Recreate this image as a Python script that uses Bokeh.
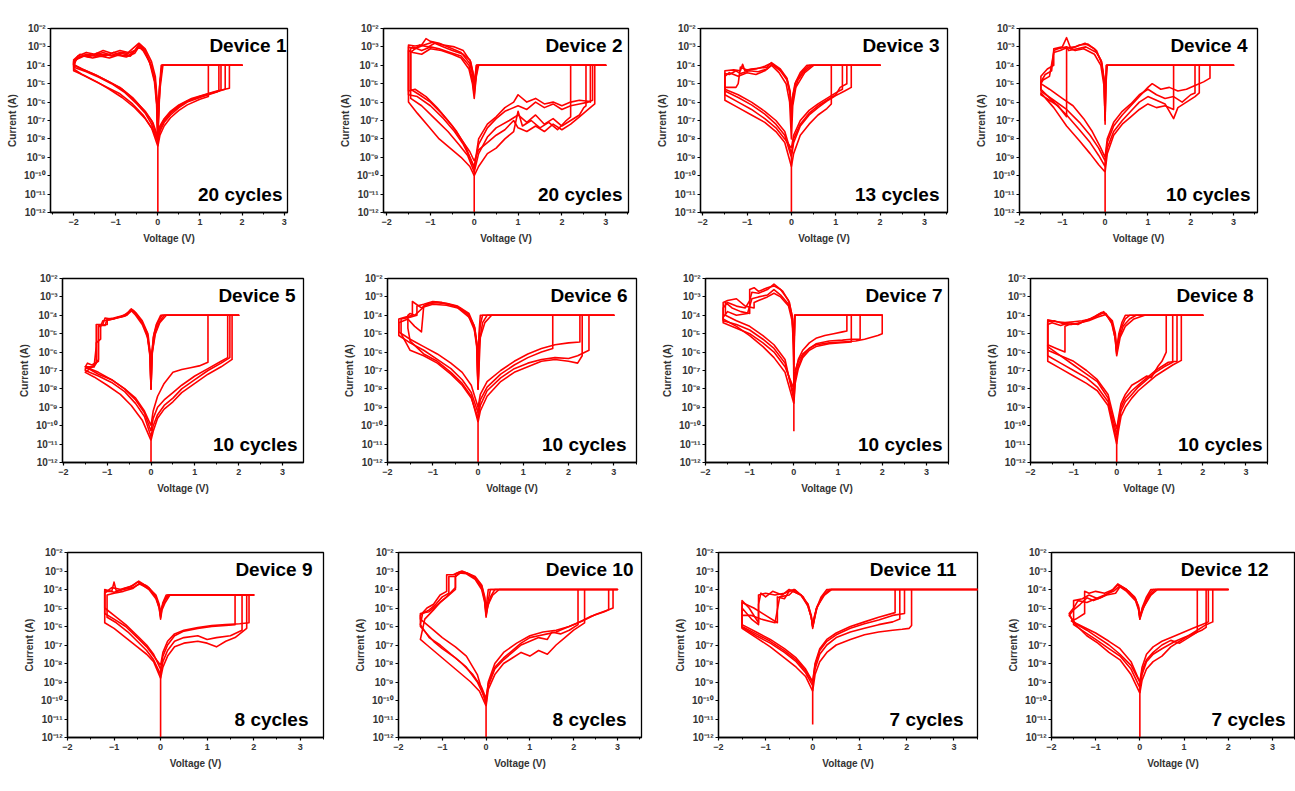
from bokeh.plotting import figure
from bokeh.layouts import column, row
from bokeh.models import Range1d, FixedTicker, CustomJSTickFormatter, Label
from bokeh.embed import file_html
from bokeh.resources import INLINE

# ---------------- data (voltage V, log10 |current| A) ----------------
DEVICE_NAMES = ["Device 1", "Device 2", "Device 3", "Device 4", "Device 5", "Device 6",
                "Device 7", "Device 8", "Device 9", "Device 10", "Device 11", "Device 12"]
CYCLE_LABELS = ["20 cycles", "20 cycles", "13 cycles", "10 cycles", "10 cycles", "10 cycles",
                "10 cycles", "10 cycles", "8 cycles", "8 cycles", "7 cycles", "7 cycles"]
X_TICKS = [-2, -1, 0, 1, 2, 3]
X_MINOR = [-2.5, -1.5, -0.5, 0.5, 1.5, 2.5, 3.5]
Y_TICKS = [1e-12, 1e-11, 1e-10, 1e-9, 1e-8, 1e-7, 1e-6, 1e-5, 1e-4, 1e-3, 1e-2]
X_RANGES = [(-2.55, 3.08), (-2.07, 3.52), (-2.05, 3.52), (-2.0, 3.56), (-2.02, 3.48), (-2.0, 3.5),
            (-2.0, 3.5), (-2.0, 3.5), (-2.0, 3.5), (-2.0, 3.55), (-2.0, 3.5), (-2.0, 3.5)]

D1 = [
    [(0,-8.2),(0.05,-7.6),(0.15,-7.1),(0.3,-6.7),(0.5,-6.3),(0.7,-6.0),(1.0,-5.75),(1.2,-5.6),(1.4,-5.45),(1.5,-5.35),(1.5,-4),(2.0,-4),(0.1,-4),(0.05,-5.0),(0.02,-6.5),(0,-8.0),(-0.02,-6.3),(-0.06,-5.0),(-0.15,-4.1),(-0.3,-3.3),(-0.45,-2.85),(-0.55,-3.2),(-0.7,-3.35),(-0.9,-3.3),(-1.1,-3.45),(-1.3,-3.3),(-1.5,-3.45),(-1.7,-3.4),(-1.9,-3.6),(-2.0,-3.9),(-2.0,-4.1),(-1.7,-4.35),(-1.4,-4.65),(-1.1,-5.0),(-0.8,-5.45),(-0.5,-6.1),(-0.3,-6.6),(-0.15,-7.2),(0,-8.2),(0,-12)],
    [(0,-8.0),(0.05,-7.4),(0.15,-6.95),(0.3,-6.55),(0.5,-6.2),(0.7,-5.95),(1.0,-5.7),(1.3,-5.5),(1.6,-5.3),(1.6,-4),(2.0,-4),(0.1,-4),(0.04,-5.2),(0.01,-6.8),(0,-7.8),(-0.02,-6.0),(-0.07,-4.8),(-0.18,-3.9),(-0.32,-3.25),(-0.42,-2.95),(-0.5,-3.1),(-0.65,-3.5),(-0.85,-3.45),(-1.05,-3.3),(-1.25,-3.5),(-1.45,-3.35),(-1.65,-3.55),(-1.85,-3.4),(-2.0,-3.7),(-2.0,-3.95),(-1.8,-4.2),(-1.5,-4.5),(-1.2,-4.85),(-0.9,-5.2),(-0.6,-5.75),(-0.35,-6.4),(-0.15,-7.0),(0,-8.0)],
    [(0,-8.4),(0.05,-7.8),(0.15,-7.3),(0.3,-6.85),(0.5,-6.45),(0.7,-6.15),(1.0,-5.85),(1.2,-5.7),(1.2,-4),(2.0,-4),(0.12,-4),(0.05,-5.3),(0.02,-6.6),(0,-8.2),(-0.03,-6.1),(-0.08,-4.9),(-0.2,-3.8),(-0.35,-3.2),(-0.45,-3.0),(-0.55,-3.35),(-0.75,-3.55),(-0.95,-3.45),(-1.15,-3.6),(-1.35,-3.5),(-1.55,-3.6),(-1.75,-3.5),(-1.95,-3.7),(-2.0,-4.2),(-1.8,-4.5),(-1.5,-4.85),(-1.2,-5.2),(-0.9,-5.55),(-0.6,-6.1),(-0.35,-6.7),(-0.15,-7.4),(0,-8.4)],
    [(0,-7.9),(0.05,-7.3),(0.15,-6.9),(0.3,-6.5),(0.5,-6.15),(0.8,-5.8),(1.1,-5.6),(1.4,-5.4),(1.7,-5.25),(1.7,-4),(2.0,-4),(0.08,-4),(0.03,-5.5),(0,-7.6),(-0.02,-5.8),(-0.06,-4.6),(-0.15,-3.8),(-0.3,-3.1),(-0.45,-2.8),(-0.55,-3.0),(-0.7,-3.3),(-0.9,-3.2),(-1.1,-3.35),(-1.3,-3.2),(-1.5,-3.4),(-1.7,-3.3),(-1.9,-3.5),(-2.0,-3.8),(-2.0,-4.0),(-1.75,-4.25),(-1.45,-4.55),(-1.15,-4.9),(-0.85,-5.3),(-0.55,-5.9),(-0.3,-6.5),(-0.12,-7.1),(0,-7.9)],
    [(0,-8.1),(0.05,-7.5),(0.15,-7.05),(0.3,-6.6),(0.5,-6.25),(0.7,-5.95),(1.0,-5.7),(1.2,-5.55),(1.45,-5.4),(1.45,-4),(2.0,-4),(0.1,-4),(0.05,-5.1),(0.02,-6.4),(0,-7.9),(-0.02,-6.2),(-0.06,-4.9),(-0.16,-4.0),(-0.3,-3.2),(-0.43,-2.9),(-0.52,-3.15),(-0.68,-3.45),(-0.88,-3.35),(-1.08,-3.5),(-1.28,-3.4),(-1.48,-3.5),(-1.68,-3.45),(-1.88,-3.55),(-2.0,-3.8),(-2.0,-4.3),(-1.75,-4.55),(-1.45,-4.9),(-1.15,-5.3),(-0.85,-5.75),(-0.55,-6.3),(-0.3,-6.9),(-0.12,-7.5),(0,-8.1)],
]

D2 = [
    [(0,-9.5),(0.1,-8.3),(0.3,-7.4),(0.5,-6.9),(0.7,-6.5),(1.0,-6.2),(1.2,-6.4),(1.4,-6.0),(1.6,-6.3),(1.8,-6.1),(2.0,-6.4),(2.2,-6.2),(2.4,-6.1),(2.6,-6.0),(2.7,-5.9),(2.7,-4),(3.0,-4),(0.05,-4),(0.02,-4.8),(0,-5.4),(-0.03,-4.6),(-0.1,-3.9),(-0.3,-3.3),(-0.5,-3.1),(-0.8,-2.8),(-1.0,-2.7),(-1.1,-2.55),(-1.2,-2.9),(-1.35,-2.95),(-1.5,-2.9),(-1.5,-5.6),(-1.3,-5.7),(-1.0,-6.2),(-0.7,-6.9),(-0.45,-7.6),(-0.25,-8.3),(-0.1,-9.0),(0,-9.5),(0,-12)],
    [(0,-9.8),(0.1,-8.8),(0.3,-7.9),(0.5,-7.4),(0.8,-7.0),(1.0,-6.7),(1.2,-7.1),(1.4,-6.7),(1.6,-7.2),(1.8,-6.9),(2.0,-7.3),(2.2,-7.0),(2.4,-6.7),(2.5,-6.3),(2.55,-6.2),(2.55,-4),(3.0,-4),(0.07,-4),(0.03,-4.9),(0,-5.6),(-0.04,-4.8),(-0.12,-4.0),(-0.3,-3.5),(-0.55,-3.3),(-0.8,-3.1),(-1.0,-3.0),(-1.2,-3.2),(-1.4,-3.0),(-1.45,-3.1),(-1.45,-5.8),(-1.2,-6.2),(-0.9,-6.9),(-0.6,-7.6),(-0.35,-8.3),(-0.15,-8.9),(0,-9.8)],
    [(0,-9.2),(0.1,-8.6),(0.3,-8.2),(0.5,-7.8),(0.7,-7.5),(0.9,-7.0),(1.0,-7.4),(1.2,-7.6),(1.4,-7.3),(1.6,-7.6),(1.8,-7.2),(2.0,-7.5),(2.2,-7.2),(2.4,-6.8),(2.6,-6.4),(2.75,-6.1),(2.75,-4),(3.0,-4),(0.1,-4),(0.04,-4.7),(0,-5.2),(-0.03,-4.4),(-0.1,-3.7),(-0.25,-3.4),(-0.5,-3.2),(-0.7,-3.0),(-0.9,-2.8),(-1.05,-3.0),(-1.25,-2.9),(-1.45,-3.3),(-1.45,-5.3),(-1.25,-5.6),(-1.0,-6.0),(-0.75,-6.6),(-0.5,-7.3),(-0.3,-8.0),(-0.1,-8.7),(0,-9.2)],
    [(0,-10.0),(0.1,-9.5),(0.3,-8.8),(0.5,-8.5),(0.7,-8.0),(0.9,-7.6),(1.0,-6.5),(1.1,-7.3),(1.3,-7.0),(1.5,-7.4),(1.7,-7.1),(1.9,-7.5),(2.1,-7.0),(2.2,-6.8),(2.2,-4),(3.0,-4),(0.06,-4),(0.03,-5.0),(0,-5.8),(-0.04,-5.0),(-0.12,-4.2),(-0.3,-3.6),(-0.5,-3.4),(-0.75,-3.2),(-1.0,-3.1),(-1.2,-3.4),(-1.4,-3.3),(-1.5,-3.2),(-1.5,-6.0),(-1.3,-6.6),(-1.05,-7.3),(-0.8,-8.0),(-0.55,-8.5),(-0.3,-9.0),(-0.1,-9.5),(0,-10.0)],
    [(0,-9.6),(0.1,-8.0),(0.3,-7.2),(0.5,-6.8),(0.7,-6.3),(0.9,-6.0),(1.0,-5.6),(1.2,-6.0),(1.4,-5.8),(1.6,-6.1),(1.8,-6.0),(2.0,-6.2),(2.2,-6.0),(2.4,-5.9),(2.6,-5.95),(2.65,-6.0),(2.65,-4),(3.0,-4),(0.05,-4),(0.02,-4.6),(0,-5.3),(-0.02,-4.5),(-0.08,-3.8),(-0.25,-3.2),(-0.45,-3.0),(-0.7,-2.9),(-0.95,-2.75),(-1.15,-2.9),(-1.35,-3.1),(-1.5,-3.0),(-1.5,-5.4),(-1.35,-5.3),(-1.1,-5.7),(-0.85,-6.3),(-0.6,-7.0),(-0.4,-7.6),(-0.2,-8.4),(0,-9.6)],
]

D3 = [
    [(0,-9.0),(0.05,-8.2),(0.2,-7.3),(0.4,-6.7),(0.6,-6.3),(0.8,-5.95),(1.0,-5.65),(1.2,-5.4),(1.35,-5.2),(1.35,-4),(2.0,-4),(0.45,-4),(0.3,-4.3),(0.15,-4.8),(0.05,-5.5),(0,-6.5),(-0.03,-5.4),(-0.1,-4.7),(-0.25,-4.2),(-0.45,-3.85),(-0.55,-4.1),(-0.7,-4.15),(-0.9,-4.2),(-1.05,-4.3),(-1.1,-3.95),(-1.15,-4.3),(-1.3,-4.25),(-1.5,-4.3),(-1.5,-5.4),(-1.2,-5.75),(-0.9,-6.15),(-0.6,-6.65),(-0.35,-7.2),(-0.15,-7.8),(0,-9.0),(0,-12)],
    [(0,-8.5),(0.05,-7.8),(0.2,-7.0),(0.4,-6.45),(0.6,-6.1),(0.8,-5.8),(1.0,-5.5),(1.15,-5.3),(1.15,-4),(2.0,-4),(0.35,-4),(0.2,-4.4),(0.08,-5.0),(0.02,-5.8),(0,-7.0),(-0.03,-5.6),(-0.1,-4.8),(-0.25,-4.3),(-0.43,-3.95),(-0.55,-4.2),(-0.75,-4.35),(-0.95,-4.3),(-1.15,-4.45),(-1.25,-4.3),(-1.4,-4.5),(-1.5,-4.45),(-1.5,-5.6),(-1.2,-6.0),(-0.9,-6.4),(-0.6,-6.9),(-0.35,-7.4),(-0.15,-8.0),(0,-8.5)],
    [(0,-9.5),(0.05,-8.8),(0.2,-7.8),(0.4,-7.2),(0.6,-6.7),(0.8,-6.35),(0.9,-6.1),(0.9,-4),(2.0,-4),(0.5,-4),(0.3,-4.4),(0.1,-5.2),(0.03,-6.2),(0,-8.0),(-0.04,-6.0),(-0.12,-5.0),(-0.28,-4.4),(-0.45,-4.0),(-0.6,-4.3),(-0.8,-4.5),(-1.0,-4.4),(-1.2,-4.6),(-1.4,-4.4),(-1.5,-4.6),(-1.5,-5.9),(-1.2,-6.3),(-0.9,-6.7),(-0.6,-7.1),(-0.35,-7.6),(-0.15,-8.2),(0,-9.5)],
    [(0,-8.8),(0.05,-8.0),(0.2,-7.2),(0.4,-6.6),(0.6,-6.2),(0.8,-5.9),(1.0,-5.6),(1.1,-5.2),(1.25,-5.0),(1.25,-4),(2.0,-4),(0.4,-4),(0.25,-4.35),(0.1,-4.9),(0.03,-5.7),(0,-6.8),(-0.03,-5.5),(-0.1,-4.75),(-0.25,-4.25),(-0.47,-3.9),(-0.6,-4.05),(-0.8,-4.2),(-1.0,-4.25),(-1.15,-4.1),(-1.2,-5.0),(-1.25,-5.2),(-1.5,-5.2),(-1.5,-5.3),(-1.2,-5.6),(-0.9,-6.0),(-0.6,-6.5),(-0.35,-7.0),(-0.15,-7.6),(0,-8.8)],
]

D4 = [
    [(0,-9.2),(0.05,-8.2),(0.2,-7.3),(0.4,-6.7),(0.6,-6.2),(0.8,-5.7),(1.0,-5.2),(1.1,-5.0),(1.3,-5.3),(1.5,-5.2),(1.7,-5.4),(1.9,-5.3),(2.1,-5.1),(2.3,-4.9),(2.45,-4.7),(2.45,-4),(3.0,-4),(0.03,-4),(0.01,-5.5),(0,-7.0),(-0.02,-5.0),(-0.08,-3.9),(-0.2,-3.2),(-0.4,-2.85),(-0.6,-2.9),(-0.8,-3.1),(-0.9,-2.5),(-1.0,-3.0),(-1.2,-3.1),(-1.2,-4.0),(-1.35,-4.2),(-1.5,-4.6),(-1.5,-5.4),(-1.2,-5.9),(-0.9,-6.4),(-0.6,-7.1),(-0.35,-7.8),(-0.15,-8.5),(0,-9.2),(0,-12)],
    [(0,-9.5),(0.05,-8.5),(0.2,-7.6),(0.4,-7.0),(0.6,-6.5),(0.8,-6.0),(1.0,-5.7),(1.2,-5.9),(1.4,-6.1),(1.6,-6.9),(1.7,-6.3),(1.9,-6.0),(2.1,-5.7),(2.2,-5.5),(2.2,-4),(3.0,-4),(0.04,-4),(0.01,-5.3),(0,-6.5),(-0.02,-4.8),(-0.08,-3.8),(-0.2,-3.3),(-0.45,-3.0),(-0.65,-3.1),(-0.85,-3.2),(-0.9,-3.0),(-1.1,-3.1),(-1.2,-3.2),(-1.25,-4.3),(-1.4,-4.5),(-1.5,-4.9),(-1.5,-5.3),(-1.2,-6.0),(-0.9,-6.7),(-0.6,-7.5),(-0.35,-8.2),(-0.15,-8.9),(0,-9.5)],
    [(0,-9.0),(0.05,-8.0),(0.2,-7.1),(0.4,-6.5),(0.6,-6.1),(0.8,-5.6),(1.0,-5.3),(1.2,-5.6),(1.4,-5.8),(1.6,-5.7),(1.8,-6.0),(2.0,-5.6),(2.1,-5.5),(2.1,-4),(3.0,-4),(0.05,-4),(0.02,-5.0),(0,-6.8),(-0.03,-4.7),(-0.1,-3.7),(-0.25,-3.1),(-0.47,-2.8),(-0.7,-3.0),(-0.9,-3.05),(-1.05,-3.2),(-1.2,-3.3),(-1.3,-4.6),(-1.45,-4.8),(-1.5,-5.0),(-1.3,-5.3),(-1.0,-5.8),(-0.75,-6.2),(-0.5,-6.9),(-0.3,-7.6),(-0.12,-8.4),(0,-9.0)],
    [(0,-9.8),(0.05,-8.8),(0.2,-7.8),(0.4,-7.2),(0.6,-6.8),(0.8,-6.4),(1.0,-6.1),(1.2,-6.3),(1.4,-6.2),(1.6,-6.4),(1.6,-4),(3.0,-4),(0.03,-4),(0.01,-5.6),(0,-7.2),(-0.02,-5.2),(-0.1,-4.0),(-0.25,-3.4),(-0.5,-3.1),(-0.7,-3.2),(-0.9,-3.0),(-0.9,-6.8),(-1.1,-6.2),(-1.3,-5.9),(-1.5,-5.6),(-1.5,-5.5),(-1.2,-6.3),(-0.9,-7.3),(-0.6,-8.1),(-0.35,-8.8),(-0.15,-9.4),(0,-9.8)],
]

D5 = [
    [(0,-10.6),(0.05,-10.0),(0.15,-9.4),(0.3,-8.9),(0.5,-8.5),(0.7,-8.0),(1.0,-7.5),(1.3,-7.0),(1.6,-6.6),(1.8,-6.3),(1.8,-4),(2.0,-4),(0.25,-4),(0.15,-4.4),(0.07,-5.0),(0.02,-6.0),(0,-8.0),(-0.02,-6.2),(-0.08,-5.1),(-0.2,-4.4),(-0.33,-3.95),(-0.45,-3.65),(-0.55,-3.95),(-0.7,-4.05),(-0.85,-4.15),(-1.0,-4.2),(-1.05,-4.55),(-1.2,-4.55),(-1.2,-6.4),(-1.3,-6.8),(-1.5,-6.9),(-1.5,-7.0),(-1.2,-7.3),(-0.9,-7.65),(-0.6,-8.15),(-0.35,-8.8),(-0.15,-9.5),(0,-10.6),(0,-12)],
    [(0,-10.3),(0.05,-9.6),(0.15,-9.0),(0.3,-8.6),(0.5,-8.2),(0.7,-7.8),(1.0,-7.3),(1.3,-6.9),(1.6,-6.5),(1.75,-6.3),(1.75,-4),(2.0,-4),(0.3,-4),(0.18,-4.4),(0.08,-5.1),(0.02,-6.2),(0,-8.0),(-0.02,-6.0),(-0.07,-5.0),(-0.2,-4.3),(-0.35,-3.85),(-0.42,-3.7),(-0.55,-4.0),(-0.7,-4.1),(-0.9,-4.2),(-1.05,-4.15),(-1.1,-4.5),(-1.25,-4.5),(-1.25,-5.7),(-1.3,-6.8),(-1.5,-6.8),(-1.2,-7.2),(-0.9,-7.5),(-0.6,-8.0),(-0.35,-8.6),(-0.15,-9.3),(0,-10.3)],
    [(0,-10.0),(0.05,-9.2),(0.15,-8.4),(0.3,-7.7),(0.5,-7.1),(0.7,-6.95),(0.9,-6.85),(1.1,-6.75),(1.3,-6.55),(1.3,-4),(2.0,-4),(0.22,-4),(0.12,-4.5),(0.05,-5.2),(0.01,-6.5),(0,-8.0),(-0.02,-6.3),(-0.08,-5.2),(-0.2,-4.5),(-0.35,-4.0),(-0.47,-3.7),(-0.6,-4.05),(-0.75,-4.1),(-0.95,-4.25),(-1.1,-4.3),(-1.15,-4.6),(-1.2,-4.6),(-1.2,-6.5),(-1.35,-6.7),(-1.45,-6.6),(-1.5,-6.8),(-1.2,-7.1),(-0.9,-7.5),(-0.6,-8.0),(-0.35,-8.5),(-0.15,-9.2),(0,-10.0)],
    [(0,-10.8),(0.05,-10.3),(0.15,-9.6),(0.3,-9.1),(0.5,-8.7),(0.7,-8.2),(1.0,-7.7),(1.3,-7.2),(1.6,-6.8),(1.85,-6.4),(1.85,-4),(2.0,-4),(0.35,-4),(0.2,-4.4),(0.1,-5.0),(0.03,-6.0),(0,-8.0),(-0.03,-5.9),(-0.1,-4.9),(-0.22,-4.3),(-0.4,-3.75),(-0.5,-3.8),(-0.65,-4.05),(-0.85,-4.2),(-1.0,-4.25),(-1.0,-4.5),(-1.15,-4.55),(-1.15,-5.3),(-1.25,-5.5),(-1.25,-6.6),(-1.5,-7.1),(-1.3,-7.35),(-1.0,-7.8),(-0.7,-8.3),(-0.45,-8.9),(-0.2,-9.7),(0,-10.8)],
]

D6 = [
    [(0,-9.0),(0.05,-8.3),(0.2,-7.6),(0.5,-7.0),(0.8,-6.5),(1.1,-6.1),(1.4,-5.8),(1.7,-5.6),(2.0,-5.5),(2.25,-5.45),(2.25,-4),(3.0,-4),(0.1,-4),(0.05,-4.5),(0.02,-5.5),(0,-8.0),(-0.02,-5.8),(-0.07,-4.7),(-0.2,-4.0),(-0.4,-3.6),(-0.65,-3.4),(-0.9,-3.3),(-1.1,-3.35),(-1.25,-3.6),(-1.45,-3.25),(-1.45,-4.0),(-1.6,-4.1),(-1.75,-4.2),(-1.75,-4.9),(-1.5,-5.3),(-1.2,-5.7),(-0.9,-6.1),(-0.6,-6.6),(-0.35,-7.1),(-0.15,-7.8),(0,-9.0),(0,-12)],
    [(0,-9.3),(0.05,-8.6),(0.2,-7.9),(0.5,-7.2),(0.8,-6.7),(1.1,-6.3),(1.4,-6.0),(1.65,-5.8),(1.65,-4),(3.0,-4),(0.2,-4),(0.1,-4.4),(0.03,-5.5),(0,-8.0),(-0.02,-5.6),(-0.08,-4.6),(-0.2,-3.9),(-0.45,-3.5),(-0.7,-3.35),(-0.95,-3.3),(-1.1,-3.4),(-1.2,-3.5),(-1.25,-4.9),(-1.4,-4.6),(-1.55,-4.2),(-1.75,-4.4),(-1.75,-5.1),(-1.5,-5.5),(-1.2,-5.9),(-0.9,-6.4),(-0.6,-6.9),(-0.35,-7.5),(-0.15,-8.2),(0,-9.3)],
    [(0,-9.6),(0.05,-8.9),(0.2,-8.1),(0.5,-7.4),(0.8,-6.9),(1.1,-6.6),(1.4,-6.4),(1.7,-6.3),(2.0,-6.35),(2.2,-6.2),(2.45,-5.9),(2.45,-4),(3.0,-4),(0.3,-4),(0.15,-4.4),(0.05,-5.2),(0,-8.0),(-0.03,-5.5),(-0.1,-4.5),(-0.25,-3.9),(-0.5,-3.5),(-0.8,-3.3),(-1.0,-3.25),(-1.2,-3.4),(-1.35,-3.5),(-1.35,-4.0),(-1.5,-4.1),(-1.7,-4.2),(-1.7,-5.0),(-1.5,-5.9),(-1.2,-6.2),(-0.9,-6.6),(-0.6,-7.2),(-0.35,-7.8),(-0.15,-8.5),(0,-9.6)],
    [(0,-9.8),(0.05,-9.2),(0.2,-8.4),(0.5,-7.6),(0.8,-7.1),(1.1,-6.8),(1.4,-6.5),(1.7,-6.4),(2.0,-6.5),(2.2,-6.6),(2.3,-6.2),(2.3,-4),(3.0,-4),(0.05,-4),(0.02,-5.0),(0,-8.0),(-0.03,-5.7),(-0.08,-4.8),(-0.2,-4.1),(-0.45,-3.6),(-0.7,-3.45),(-1.0,-3.4),(-1.2,-3.55),(-1.4,-4.0),(-1.5,-3.9),(-1.55,-4.0),(-1.55,-4.7),(-1.5,-5.4),(-1.2,-6.1),(-0.9,-6.5),(-0.6,-7.1),(-0.35,-7.7),(-0.15,-8.4),(0,-9.8)],
]

D7 = [
    [(0,-8.3),(0.03,-7.2),(0.1,-6.4),(0.2,-5.9),(0.35,-5.5),(0.5,-5.25),(0.7,-5.1),(0.9,-5.0),(1.1,-4.9),(1.2,-4.85),(1.2,-4),(2.0,-4),(0.02,-4),(0.005,-5.5),(0,-8.0),(-0.01,-5.5),(-0.03,-4.2),(-0.1,-3.3),(-0.25,-2.7),(-0.45,-2.3),(-0.6,-2.6),(-0.8,-2.8),(-0.95,-2.75),(-1.0,-3.2),(-1.1,-3.6),(-1.3,-3.5),(-1.5,-3.3),(-1.6,-3.6),(-1.6,-4.3),(-1.3,-4.5),(-1.0,-4.8),(-0.7,-5.3),(-0.45,-5.8),(-0.2,-6.6),(0,-8.3),(0,-10.3)],
    [(0,-8.6),(0.03,-7.5),(0.1,-6.7),(0.2,-6.2),(0.35,-5.8),(0.5,-5.55),(0.8,-5.4),(1.1,-5.35),(1.3,-5.3),(1.5,-5.3),(1.5,-4),(2.0,-4),(0.02,-4),(0,-6.0),(-0.01,-5.2),(-0.04,-4.0),(-0.12,-3.2),(-0.3,-2.6),(-0.45,-2.4),(-0.6,-2.5),(-0.8,-2.7),(-0.9,-2.5),(-1.0,-2.6),(-1.0,-3.9),(-1.2,-3.8),(-1.4,-3.6),(-1.55,-3.3),(-1.55,-4.0),(-1.3,-4.3),(-1.0,-4.6),(-0.7,-5.1),(-0.45,-5.6),(-0.2,-6.4),(0,-8.6)],
    [(0,-8.0),(0.03,-7.0),(0.1,-6.5),(0.2,-6.1),(0.35,-5.8),(0.5,-5.6),(0.8,-5.5),(1.1,-5.45),(1.4,-5.4),(1.6,-5.3),(1.9,-5.1),(2.0,-5.0),(2.0,-4),(0.02,-4),(0,-6.5),(-0.01,-5.3),(-0.04,-4.1),(-0.12,-3.4),(-0.3,-2.9),(-0.45,-2.6),(-0.6,-2.9),(-0.8,-3.0),(-0.95,-3.1),(-1.05,-3.9),(-1.3,-4.0),(-1.5,-3.8),(-1.6,-4.1),(-1.6,-4.4),(-1.3,-4.7),(-1.0,-5.0),(-0.7,-5.5),(-0.45,-6.0),(-0.2,-6.8),(0,-8.0)],
    [(0,-8.8),(0.03,-7.7),(0.1,-6.9),(0.2,-6.3),(0.35,-5.9),(0.5,-5.7),(0.8,-5.55),(1.0,-5.5),(1.3,-5.45),(1.3,-4),(2.0,-4),(0.02,-4),(0,-7.0),(-0.01,-5.6),(-0.04,-4.3),(-0.12,-3.5),(-0.3,-3.0),(-0.45,-2.8),(-0.6,-3.0),(-0.8,-3.2),(-0.9,-3.3),(-0.9,-3.6),(-1.1,-3.5),(-1.3,-3.1),(-1.5,-3.2),(-1.6,-3.3),(-1.6,-4.2),(-1.3,-4.6),(-1.0,-5.1),(-0.7,-5.7),(-0.45,-6.3),(-0.2,-7.1),(0,-8.8)],
]

D8 = [
    [(0,-10.8),(0.04,-10.0),(0.1,-9.2),(0.2,-8.7),(0.35,-8.3),(0.5,-7.9),(0.7,-7.5),(0.9,-7.1),(1.1,-6.8),(1.3,-6.55),(1.3,-4),(2.0,-4),(0.3,-4),(0.2,-4.2),(0.1,-4.7),(0.04,-5.3),(0,-6.1),(-0.04,-5.2),(-0.12,-4.4),(-0.3,-3.8),(-0.45,-4.0),(-0.6,-4.2),(-0.8,-4.3),(-1.0,-4.35),(-1.2,-4.4),(-1.4,-4.35),(-1.6,-4.25),(-1.6,-6.2),(-1.3,-6.6),(-1.0,-7.0),(-0.7,-7.4),(-0.45,-7.9),(-0.2,-8.7),(0,-10.8),(0,-12)],
    [(0,-10.2),(0.04,-9.6),(0.1,-8.8),(0.2,-8.3),(0.35,-7.8),(0.5,-7.6),(0.7,-7.3),(0.8,-7.4),(0.95,-6.8),(1.05,-6.5),(1.15,-6.0),(1.15,-4),(2.0,-4),(0.65,-4),(0.4,-4.2),(0.2,-4.6),(0.08,-5.2),(0,-6.2),(-0.03,-5.3),(-0.1,-4.5),(-0.25,-3.9),(-0.35,-3.85),(-0.5,-4.05),(-0.7,-4.3),(-0.9,-4.45),(-1.1,-4.5),(-1.2,-4.6),(-1.2,-6.0),(-1.4,-5.8),(-1.6,-5.6),(-1.6,-5.9),(-1.3,-6.2),(-1.0,-6.5),(-0.7,-7.0),(-0.45,-7.5),(-0.2,-8.3),(0,-10.2)],
    [(0,-11.0),(0.04,-10.3),(0.1,-9.5),(0.2,-9.0),(0.35,-8.5),(0.5,-8.1),(0.7,-7.7),(0.9,-7.3),(1.1,-7.0),(1.3,-6.7),(1.5,-6.45),(1.5,-4),(2.0,-4),(0.45,-4),(0.3,-4.2),(0.15,-4.6),(0.05,-5.3),(0,-6.0),(-0.04,-5.0),(-0.12,-4.3),(-0.3,-3.85),(-0.5,-4.1),(-0.7,-4.25),(-0.9,-4.5),(-1.1,-4.4),(-1.3,-4.55),(-1.5,-4.4),(-1.6,-4.5),(-1.6,-6.5),(-1.3,-6.9),(-1.0,-7.3),(-0.7,-7.7),(-0.45,-8.1),(-0.2,-8.9),(0,-11.0)],
    [(0,-10.5),(0.04,-9.8),(0.1,-9.0),(0.2,-8.5),(0.35,-8.1),(0.5,-7.8),(0.7,-7.4),(0.9,-7.0),(1.1,-6.7),(1.2,-6.55),(1.4,-6.5),(1.4,-4),(2.0,-4),(0.2,-4),(0.12,-4.4),(0.05,-5.0),(0,-5.9),(-0.03,-5.0),(-0.1,-4.3),(-0.25,-3.95),(-0.45,-4.1),(-0.65,-4.3),(-0.85,-4.4),(-1.05,-4.5),(-1.25,-4.45),(-1.45,-4.3),(-1.6,-4.35),(-1.6,-5.7),(-1.3,-6.2),(-1.0,-6.7),(-0.7,-7.2),(-0.45,-7.6),(-0.2,-8.5),(0,-10.5)],
]

D9 = [
    [(0,-8.3),(0.05,-7.6),(0.15,-7.0),(0.3,-6.5),(0.5,-6.25),(0.8,-6.1),(1.1,-6.0),(1.4,-5.95),(1.6,-5.9),(1.6,-4.3),(2.0,-4.3),(0.15,-4.3),(0.08,-4.6),(0.02,-5.0),(0,-5.4),(-0.03,-4.9),(-0.1,-4.4),(-0.25,-3.9),(-0.47,-3.55),(-0.6,-3.8),(-0.8,-3.95),(-0.95,-4.1),(-1.0,-3.6),(-1.05,-4.1),(-1.2,-4.1),(-1.2,-5.0),(-1.0,-5.4),(-0.75,-5.9),(-0.5,-6.5),(-0.3,-7.0),(-0.15,-7.5),(0,-8.3),(0,-12)],
    [(0,-8.6),(0.05,-7.9),(0.15,-7.3),(0.3,-6.8),(0.5,-6.6),(0.8,-6.5),(1.0,-6.7),(1.2,-6.6),(1.5,-6.5),(1.75,-6.2),(1.75,-4.3),(2.0,-4.3),(0.2,-4.3),(0.1,-4.7),(0.03,-5.1),(0,-5.6),(-0.03,-5.0),(-0.1,-4.5),(-0.25,-4.0),(-0.45,-3.65),(-0.6,-3.95),(-0.8,-4.1),(-1.0,-4.2),(-1.15,-4.3),(-1.15,-5.5),(-0.95,-5.8),(-0.7,-6.3),(-0.5,-6.8),(-0.3,-7.3),(-0.15,-7.8),(0,-8.6)],
    [(0,-8.8),(0.05,-8.2),(0.15,-7.6),(0.3,-7.1),(0.5,-6.9),(0.8,-6.8),(1.0,-6.9),(1.2,-7.1),(1.4,-6.8),(1.6,-6.6),(1.85,-6.1),(1.85,-4.3),(2.0,-4.3),(0.12,-4.3),(0.05,-4.7),(0,-5.3),(-0.03,-4.8),(-0.1,-4.3),(-0.3,-3.8),(-0.5,-3.6),(-0.65,-3.85),(-0.85,-4.0),(-1.05,-3.9),(-1.2,-4.2),(-1.2,-5.8),(-1.0,-6.1),(-0.75,-6.6),(-0.5,-7.1),(-0.3,-7.5),(-0.15,-7.9),(0,-8.8)],
    [(0,-8.1),(0.05,-7.4),(0.15,-6.8),(0.3,-6.4),(0.5,-6.2),(0.8,-6.05),(1.1,-5.95),(1.4,-5.9),(1.7,-5.85),(1.9,-5.8),(1.9,-4.3),(2.0,-4.3),(0.18,-4.3),(0.09,-4.6),(0.03,-5.0),(0,-5.5),(-0.03,-5.0),(-0.1,-4.4),(-0.25,-3.95),(-0.45,-3.7),(-0.6,-3.9),(-0.8,-4.0),(-1.0,-4.15),(-1.2,-4.0),(-1.2,-5.3),(-1.0,-5.6),(-0.75,-6.0),(-0.5,-6.6),(-0.3,-7.1),(-0.15,-7.6),(0,-8.1)],
]

D10 = [
    [(0,-10.2),(0.05,-9.0),(0.2,-8.0),(0.4,-7.4),(0.7,-6.9),(1.0,-6.5),(1.3,-6.3),(1.6,-6.2),(1.9,-6.0),(2.2,-5.7),(2.5,-5.35),(2.8,-5.1),(2.9,-5.0),(2.9,-4),(3.0,-4),(0.05,-4),(0.02,-4.6),(0,-5.2),(-0.03,-4.5),(-0.1,-3.8),(-0.25,-3.35),(-0.4,-3.15),(-0.55,-3.0),(-0.65,-3.1),(-0.7,-3.15),(-0.7,-4.0),(-0.85,-4.3),(-1.0,-4.6),(-1.15,-4.9),(-1.3,-5.2),(-1.5,-5.3),(-1.5,-5.6),(-1.2,-6.2),(-1.0,-6.6),(-0.7,-7.1),(-0.45,-7.6),(-0.2,-8.6),(0,-10.2),(0,-12)],
    [(0,-10.0),(0.05,-9.2),(0.2,-8.3),(0.4,-7.8),(0.6,-7.4),(0.8,-7.0),(1.0,-6.8),(1.2,-6.6),(1.4,-6.7),(1.5,-6.3),(1.7,-6.4),(1.9,-6.2),(2.1,-5.9),(2.1,-4),(3.0,-4),(0.3,-4),(0.15,-4.3),(0.05,-4.8),(0,-5.4),(-0.03,-4.6),(-0.1,-3.9),(-0.25,-3.4),(-0.45,-3.1),(-0.6,-3.05),(-0.75,-3.2),(-0.9,-3.2),(-0.9,-4.1),(-1.05,-4.3),(-1.2,-4.8),(-1.35,-5.0),(-1.5,-5.4),(-1.5,-6.0),(-1.2,-6.8),(-1.0,-7.2),(-0.7,-7.7),(-0.45,-8.2),(-0.2,-9.0),(0,-10.0)],
    [(0,-10.3),(0.05,-9.4),(0.2,-8.6),(0.4,-8.0),(0.6,-7.7),(0.8,-7.4),(1.0,-7.6),(1.2,-7.3),(1.4,-7.5),(1.6,-7.0),(1.8,-6.6),(2.0,-6.2),(2.25,-5.8),(2.25,-4),(3.0,-4),(0.1,-4),(0.04,-4.7),(0,-5.3),(-0.03,-4.4),(-0.1,-3.75),(-0.25,-3.3),(-0.45,-3.1),(-0.55,-3.05),(-0.65,-3.2),(-0.7,-3.3),(-0.7,-3.9),(-0.9,-4.4),(-1.05,-4.7),(-1.2,-5.1),(-1.4,-5.6),(-1.5,-6.7),(-1.35,-7.0),(-1.1,-7.5),(-0.85,-8.0),(-0.6,-8.5),(-0.35,-9.0),(-0.15,-9.5),(0,-10.3)],
    [(0,-9.9),(0.05,-9.1),(0.2,-8.2),(0.4,-7.7),(0.6,-7.3),(0.8,-6.9),(1.0,-6.6),(1.2,-6.5),(1.4,-6.4),(1.6,-6.3),(1.8,-6.1),(2.1,-5.8),(2.4,-5.45),(2.7,-5.2),(2.8,-5.1),(2.8,-4),(3.0,-4),(0.2,-4),(0.1,-4.4),(0.03,-5.0),(0,-5.5),(-0.03,-4.7),(-0.1,-4.0),(-0.25,-3.45),(-0.45,-3.15),(-0.6,-3.1),(-0.7,-3.3),(-0.85,-3.3),(-0.85,-4.2),(-1.0,-4.4),(-1.15,-4.8),(-1.3,-5.1),(-1.45,-5.3),(-1.5,-5.9),(-1.3,-6.6),(-1.05,-7.0),(-0.8,-7.5),(-0.55,-8.0),(-0.3,-8.6),(-0.1,-9.3),(0,-9.9)],
]

D11 = [
    [(0,-9.0),(0.05,-8.0),(0.15,-7.2),(0.3,-6.7),(0.5,-6.35),(0.8,-6.0),(1.1,-5.75),(1.4,-5.5),(1.75,-5.25),(1.75,-4),(3.5,-4),(0.4,-4),(0.25,-4.3),(0.1,-4.9),(0.03,-5.5),(0,-6.0),(-0.03,-5.5),(-0.1,-4.9),(-0.2,-4.4),(-0.4,-4.0),(-0.5,-4.1),(-0.6,-4.5),(-0.75,-4.4),(-0.75,-5.8),(-1.0,-5.4),(-1.25,-5.0),(-1.5,-4.7),(-1.5,-6.0),(-1.2,-6.4),(-0.9,-6.8),(-0.6,-7.3),(-0.35,-7.8),(-0.15,-8.4),(0,-9.0),(0,-11.3)],
    [(0,-9.2),(0.05,-8.3),(0.15,-7.5),(0.3,-7.0),(0.5,-6.6),(0.8,-6.3),(1.1,-6.1),(1.4,-5.9),(1.7,-5.75),(1.85,-5.6),(1.85,-4),(3.5,-4),(0.35,-4),(0.2,-4.4),(0.08,-5.0),(0,-6.1),(-0.03,-5.4),(-0.1,-4.8),(-0.25,-4.3),(-0.45,-4.05),(-0.6,-4.2),(-0.8,-4.3),(-1.0,-4.2),(-1.15,-4.3),(-1.15,-5.9),(-1.3,-5.6),(-1.5,-5.0),(-1.5,-6.05),(-1.2,-6.5),(-0.9,-6.9),(-0.6,-7.4),(-0.35,-7.9),(-0.15,-8.5),(0,-9.2)],
    [(0,-9.5),(0.05,-8.6),(0.15,-7.9),(0.3,-7.4),(0.5,-7.0),(0.8,-6.7),(1.1,-6.45),(1.4,-6.3),(1.7,-6.2),(1.9,-6.15),(2.05,-6.1),(2.1,-5.95),(2.1,-4),(3.5,-4),(0.3,-4),(0.18,-4.4),(0.07,-5.1),(0,-6.0),(-0.03,-5.5),(-0.1,-4.9),(-0.25,-4.3),(-0.38,-4.0),(-0.5,-4.3),(-0.7,-4.4),(-0.8,-5.8),(-1.1,-5.6),(-1.3,-5.4),(-1.5,-5.4),(-1.5,-6.1),(-1.2,-6.6),(-0.9,-7.1),(-0.6,-7.7),(-0.35,-8.2),(-0.15,-8.7),(0,-9.5)],
    [(0,-9.0),(0.05,-8.1),(0.15,-7.3),(0.3,-6.8),(0.5,-6.45),(0.8,-6.1),(1.1,-5.85),(1.4,-5.65),(1.7,-5.4),(1.95,-5.3),(1.95,-4),(3.5,-4),(0.38,-4),(0.22,-4.35),(0.09,-5.0),(0,-6.0),(-0.03,-5.5),(-0.1,-4.8),(-0.25,-4.3),(-0.5,-4.0),(-0.65,-4.3),(-0.85,-4.1),(-1.0,-4.4),(-1.1,-4.2),(-1.15,-4.8),(-1.15,-5.8),(-1.35,-5.0),(-1.5,-4.6),(-1.5,-5.9),(-1.2,-6.3),(-0.9,-6.7),(-0.6,-7.2),(-0.35,-7.7),(-0.15,-8.3),(0,-9.0)],
]

D12 = [
    [(0,-9.0),(0.05,-8.2),(0.15,-7.5),(0.3,-7.1),(0.5,-6.8),(0.8,-6.5),(1.0,-6.3),(1.2,-6.1),(1.4,-5.9),(1.55,-5.75),(1.55,-4),(2.0,-4),(0.3,-4),(0.2,-4.3),(0.08,-4.9),(0,-5.5),(-0.03,-5.0),(-0.1,-4.5),(-0.25,-4.1),(-0.5,-3.75),(-0.6,-4.0),(-0.8,-4.2),(-1.0,-4.1),(-1.15,-4.2),(-1.25,-4.1),(-1.25,-5.3),(-1.45,-5.6),(-1.55,-5.7),(-1.3,-6.0),(-1.0,-6.35),(-0.7,-6.8),(-0.45,-7.2),(-0.2,-7.9),(0,-9.0),(0,-12)],
    [(0,-9.3),(0.05,-8.6),(0.15,-7.9),(0.3,-7.5),(0.5,-7.2),(0.8,-6.8),(1.0,-6.6),(1.2,-6.4),(1.4,-6.2),(1.5,-6.05),(1.5,-4),(2.0,-4),(0.25,-4),(0.15,-4.4),(0.05,-5.0),(0,-5.6),(-0.03,-5.1),(-0.1,-4.6),(-0.3,-4.1),(-0.45,-3.85),(-0.55,-4.2),(-0.75,-4.3),(-0.95,-4.5),(-1.15,-4.3),(-1.3,-4.5),(-1.5,-4.6),(-1.5,-5.9),(-1.25,-6.3),(-1.0,-6.7),(-0.7,-7.2),(-0.45,-7.6),(-0.2,-8.3),(0,-9.3)],
    [(0,-9.0),(0.05,-8.4),(0.15,-7.8),(0.3,-7.4),(0.5,-7.0),(0.7,-6.75),(0.9,-6.9),(1.1,-6.6),(1.3,-6.3),(1.3,-4),(2.0,-4),(0.4,-4),(0.25,-4.3),(0.1,-4.9),(0,-5.4),(-0.03,-4.9),(-0.12,-4.4),(-0.3,-4.0),(-0.5,-3.7),(-0.65,-4.1),(-0.85,-4.4),(-1.05,-4.6),(-1.2,-4.45),(-1.35,-4.8),(-1.5,-5.1),(-1.6,-5.4),(-1.45,-5.85),(-1.2,-6.2),(-0.95,-6.6),(-0.7,-7.0),(-0.45,-7.5),(-0.2,-8.1),(0,-9.0)],
    [(0,-9.6),(0.05,-8.9),(0.15,-8.3),(0.3,-7.9),(0.5,-7.6),(0.7,-7.1),(0.9,-6.8),(1.1,-6.5),(1.3,-6.2),(1.5,-5.9),(1.65,-5.75),(1.65,-4),(2.0,-4),(0.35,-4),(0.2,-4.4),(0.08,-5.0),(0,-5.6),(-0.03,-5.0),(-0.1,-4.5),(-0.3,-4.0),(-0.45,-3.8),(-0.6,-4.1),(-0.8,-4.3),(-1.0,-4.5),(-1.2,-4.7),(-1.4,-4.6),(-1.5,-5.0),(-1.6,-5.3),(-1.5,-5.8),(-1.2,-6.5),(-0.95,-6.9),(-0.7,-7.4),(-0.45,-7.8),(-0.2,-8.6),(0,-9.6)],
]

DEVICES = [D1, D2, D3, D4, D5, D6, D7, D8, D9, D10, D11, D12]

# ---------------- layout (figure box + frame borders, px) ----------------
# (width, height, border_left, border_right, border_top, border_bottom, title_dx, cycles_dx)
LAYOUT = [
    (330, 250, 50, 43, 16, 38, 1, 5), (320, 250, 53, 22, 18, 35, 6, 6),
    (320, 250, 50, 23, 22, 30, 8, 8), (325, 250, 49, 38, 28, 32, 10, 7),
    (330, 255, 62, 27, 17, 43, 8, 6), (320, 255, 57, 14, 13, 42, 9, 10),
    (320, 255, 55, 22, 27, 35, 6, 6), (325, 255, 60, 28, 28, 38, 14, 5),
    (330, 285, 67, 7, 32, 47, 11, 15), (320, 285, 68, 9, 37, 53, 8, 15),
    (330, 285, 68, 3, 38, 40, 21, 14), (315, 285, 71, 1, 47, 43, 26, 9),
]

FONT = "Liberation Sans"
SUP_JS = """
const sup = {'-':'\u207b','0':'\u2070','1':'\u00b9','2':'\u00b2','3':'\u00b3','4':'\u2074',
             '5':'\u2075','6':'\u2076','7':'\u2077','8':'\u2078','9':'\u2079'};
const e = Math.round(Math.log10(tick));
return '10' + String(e).split('').map(c => sup[c]).join('');
"""


def make_panel(i):
    w, h, bl, br, bt, bb, tdx, cdx = LAYOUT[i]
    x0, x1 = X_RANGES[i]
    p = figure(width=w, height=h, y_axis_type="log", output_backend="svg",
               toolbar_location=None, x_range=Range1d(x0, x1), y_range=Range1d(1e-12, 1e-2),
               min_border_left=bl, min_border_right=br, min_border_top=bt, min_border_bottom=bb)
    p.grid.visible = False
    p.outline_line_color = "black"
    p.outline_line_width = 1.3
    p.background_fill_color = "white"
    p.border_fill_color = "white"

    xs = [[pt[0] for pt in cyc] for cyc in DEVICES[i]]
    ys = [[10 ** pt[1] for pt in cyc] for cyc in DEVICES[i]]
    p.multi_line(xs, ys, line_color="#ff0000", line_width=1.6, line_join="round")

    p.xaxis.ticker = FixedTicker(ticks=X_TICKS, minor_ticks=X_MINOR)
    p.yaxis.ticker = FixedTicker(ticks=Y_TICKS, minor_ticks=[])
    p.yaxis.formatter = CustomJSTickFormatter(code=SUP_JS)
    p.xaxis.axis_label = "Voltage (V)"
    p.yaxis.axis_label = "Current (A)"
    for ax in (p.xaxis, p.yaxis):
        ax.axis_line_color = "black"
        ax.axis_line_width = 1.3
        ax.major_tick_line_color = "black"
        ax.major_tick_line_width = 1.2
        ax.major_tick_in = 0
        ax.major_tick_out = 3
        ax.minor_tick_line_color = "black"
        ax.minor_tick_in = 0
        ax.minor_tick_out = 2
        ax.major_label_text_font = FONT
        ax.major_label_text_font_style = "bold"
        ax.major_label_text_color = "#333333"
        ax.axis_label_text_font = FONT
        ax.axis_label_text_font_style = "bold"
        ax.axis_label_text_color = "#333333"
        ax.axis_label_text_font_size = "10px"
    p.xaxis.major_label_text_font_size = "9px"
    p.yaxis.major_label_text_font_size = "10px"
    p.xaxis.major_label_standoff = 3
    p.yaxis.major_label_standoff = 2
    p.xaxis.axis_label_standoff = 5
    p.yaxis.axis_label_standoff = 3

    p.add_layout(Label(x=x1, y=1e-2, x_offset=-tdx, y_offset=-17, text=DEVICE_NAMES[i],
                       text_align="right", text_baseline="middle", text_font=FONT,
                       text_font_style="bold", text_font_size="19px", text_color="black"))
    p.add_layout(Label(x=x1, y=1e-12, x_offset=-cdx, y_offset=18, text=CYCLE_LABELS[i],
                       text_align="right", text_baseline="middle", text_font=FONT,
                       text_font_style="bold", text_font_size="19px", text_color="black"))
    return p


panels = [make_panel(i) for i in range(12)]
layout = column(row(*panels[0:4]), row(*panels[4:8]), row(*panels[8:12]))

open("out.html", "w").write(file_html(layout, INLINE))
